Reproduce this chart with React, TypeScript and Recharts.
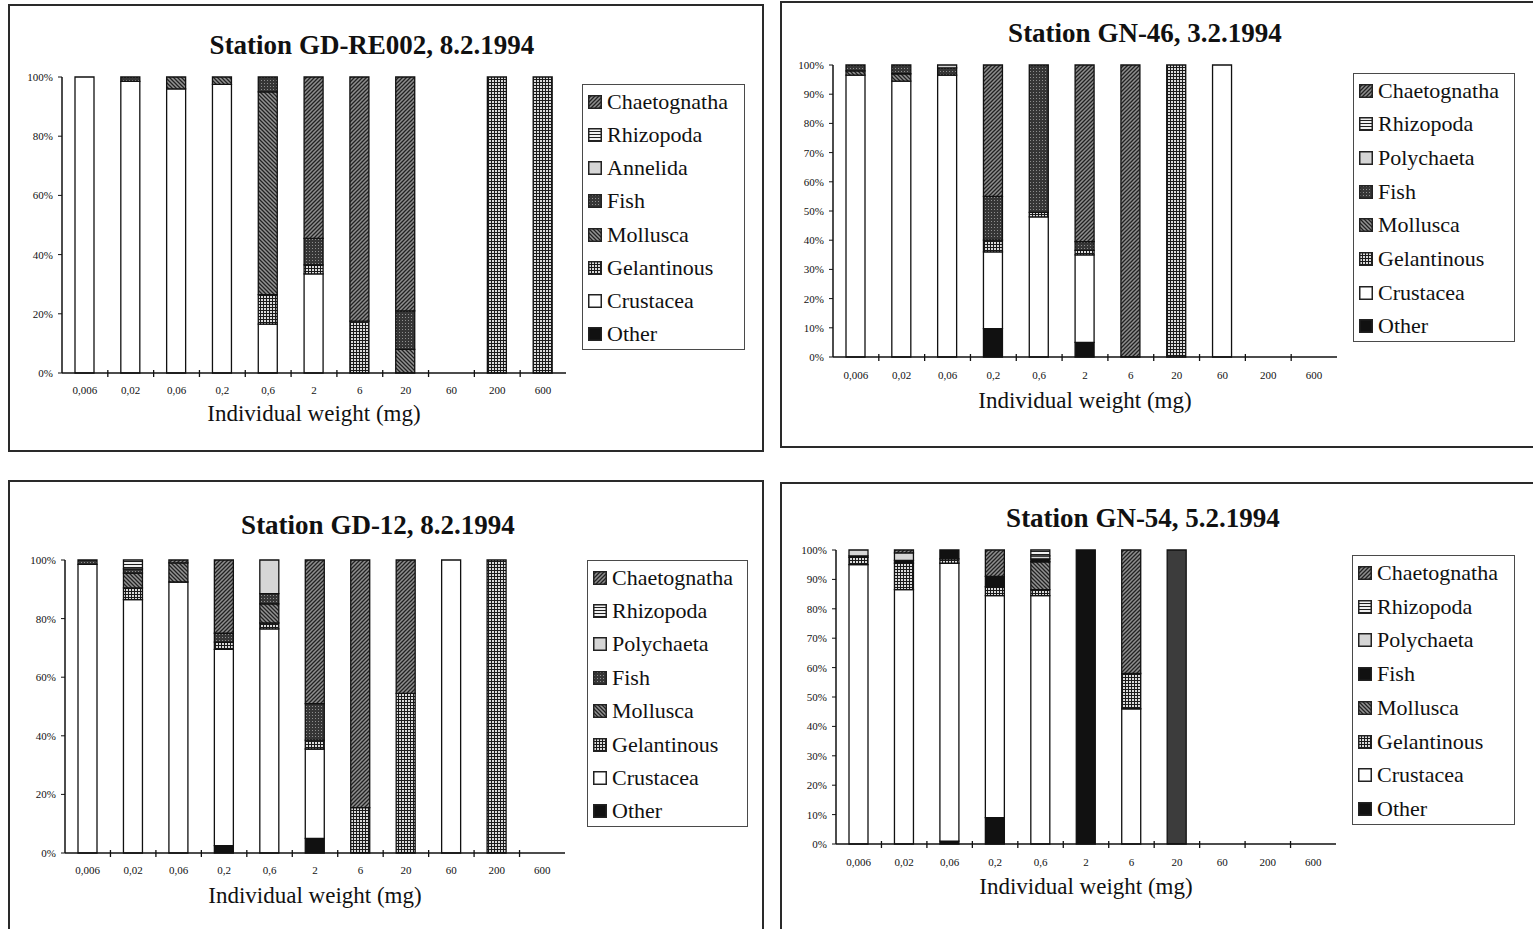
import React from 'react';
import { BarChart, Bar, XAxis, YAxis, Legend, Cell } from 'recharts';

// ---------- data ----------
const weightClasses = ['0,006', '0,02', '0,06', '0,2', '0,6', '2', '6', '20', '60', '200', '600'];
const ticksBy20 = [0, 20, 40, 60, 80, 100];
const ticksBy10 = [0, 10, 20, 30, 40, 50, 60, 70, 80, 90, 100];

// Station GD-RE002, 8.2.1994
const re002Other = [0, 0, 0, 0, 0, 0, 0, 0, 0, 0, 0];
const re002Crustacea = [100, 98.5, 96, 97.5, 16.5, 33.5, 0, 0, 0, 0, 0];
const re002Gelatinous = [0, 0, 0, 0, 10, 3, 17.5, 0, 0, 100, 100];
const re002Mollusca = [0, 0, 4, 2.5, 68.5, 0, 0, 8, 0, 0, 0];
const re002Fish = [0, 1.5, 0, 0, 5, 9, 0, 13, 0, 0, 0];
const re002Annelida = [0, 0, 0, 0, 0, 0, 0, 0, 0, 0, 0];
const re002Rhizopoda = [0, 0, 0, 0, 0, 0, 0, 0, 0, 0, 0];
const re002Chaetognatha = [0, 0, 0, 0, 0, 54.5, 82.5, 79, 0, 0, 0];

// Station GN-46, 3.2.1994
const gn46Other = [0, 0, 0, 9.7, 0, 5, 0, 0, 0, 0, 0];
const gn46Crustacea = [96.5, 94.5, 96.5, 26.3, 48, 30, 0, 0, 100, 0, 0];
const gn46Gelatinous = [0, 0, 0, 4, 1.5, 1.5, 0, 100, 0, 0, 0];
const gn46Mollusca = [1.5, 2.5, 0, 0, 0, 0, 0, 0, 0, 0, 0];
const gn46Fish = [2, 3, 2.5, 15, 50.5, 3, 0, 0, 0, 0, 0];
const gn46Polychaeta = [0, 0, 1, 0, 0, 0, 0, 0, 0, 0, 0];
const gn46Rhizopoda = [0, 0, 0, 0, 0, 0, 0, 0, 0, 0, 0];
const gn46Chaetognatha = [0, 0, 0, 45, 0, 60.5, 100, 0, 0, 0, 0];

// Station GD-12, 8.2.1994
const gd12Other = [0, 0, 0, 2.5, 0, 5, 0, 0, 0, 0, 0];
const gd12Crustacea = [98.5, 86.5, 92.5, 67, 76.5, 30.5, 0, 0, 100, 0, 0];
const gd12Gelatinous = [0, 4, 0, 2.5, 2, 3, 15.5, 54.5, 0, 100, 0];
const gd12Mollusca = [0, 5, 6.5, 0, 6.5, 0, 0, 0, 0, 0, 0];
const gd12Fish = [1.5, 1.5, 0, 3, 3.5, 12.5, 0, 0, 0, 0, 0];
const gd12Polychaeta = [0, 0, 0, 0, 11.5, 0, 0, 0, 0, 0, 0];
const gd12Rhizopoda = [0, 3, 0, 0, 0, 0, 0, 0, 0, 0, 0];
const gd12Chaetognatha = [0, 0, 1, 25, 0, 49, 84.5, 45.5, 0, 0, 0];

// Station GN-54, 5.2.1994
const gn54Other = [0, 0, 1, 9, 0, 0, 0, 0, 0, 0, 0];
const gn54Crustacea = [95, 86.5, 94.5, 75.5, 84.5, 0, 46, 0, 0, 0, 0];
const gn54Gelatinous = [2.5, 9, 1.5, 3, 2, 0, 12, 0, 0, 0, 0];
const gn54Mollusca = [0, 0, 0, 0, 9.5, 0, 0, 100, 0, 0, 0];
const gn54Fish = [0.5, 1, 3, 3.5, 1, 100, 0, 0, 0, 0, 0];
const gn54Polychaeta = [2, 2.5, 0, 0, 1, 0, 0, 0, 0, 0, 0];
const gn54Rhizopoda = [0, 0, 0, 0, 2, 0, 0, 0, 0, 0, 0];
const gn54Chaetognatha = [0, 1, 0, 9, 0, 0, 42, 0, 0, 0, 0];

// ---------- styling ----------
const FONT = '"Liberation Serif", "Times New Roman", serif';
const seriesKeys = ['other', 'crustacea', 'gelatinous', 'mollusca', 'fish', 'worms', 'rhizopoda', 'chaetognatha'];

const patternDefs = (id: string) => (
  <defs>
    <pattern id={`${id}-fwd`} patternUnits="userSpaceOnUse" width={4} height={4}>
      <rect width={4} height={4} fill="#8e8e8e" />
      <path d="M-1,1 L1,-1 M0,4 L4,0 M3,5 L5,3" stroke="#222" strokeWidth={1.3} />
    </pattern>
    <pattern id={`${id}-back`} patternUnits="userSpaceOnUse" width={4} height={4}>
      <rect width={4} height={4} fill="#939393" />
      <path d="M-1,3 L1,5 M0,0 L4,4 M3,-1 L5,1" stroke="#222" strokeWidth={1.3} />
    </pattern>
    <pattern id={`${id}-grid`} patternUnits="userSpaceOnUse" width={3} height={3}>
      <rect width={3} height={3} fill="#dadada" />
      <path d="M0,0.5 H3 M0.5,0 V3" stroke="#1a1a1a" strokeWidth={1} />
    </pattern>
    <pattern id={`${id}-dark`} patternUnits="userSpaceOnUse" width={3} height={3}>
      <rect width={3} height={3} fill="#363636" />
      <rect x={1} y={1} width={1} height={1} fill="#8e8e8e" />
    </pattern>
    <pattern id={`${id}-hline`} patternUnits="userSpaceOnUse" width={4} height={3}>
      <rect width={4} height={3} fill="#f0f0f0" />
      <path d="M0,0.5 H4" stroke="#1e1e1e" strokeWidth={1} />
    </pattern>
  </defs>
);

interface PanelCfg {
  id: string;
  title: string;
  wormName: string;
  box: { left: number; top: number; width: number; height: number };
  plot: { left: number; right: number; top: number; bottom: number };
  tickBaseline: number;
  axisTitleBaseline: number;
  legend: { left: number; top: number; width: number; height: number };
  titleCenter: { x: number; y: number };
  yTicks: number[];
  values: Record<string, number[]>;
  fishSolid: boolean;
  solidFull?: { key: string; fill: string };
}

const panels: PanelCfg[] = [
  {
    id: 'p1',
    title: 'Station GD-RE002, 8.2.1994',
    wormName: 'Annelida',
    box: { left: 8, top: 4, width: 756, height: 448 },
    plot: { left: 54, right: 558, top: 73, bottom: 369 },
    tickBaseline: 390,
    axisTitleBaseline: 417,
    legend: { left: 574, top: 80, width: 163, height: 266 },
    titleCenter: { x: 364, y: 41 },
    yTicks: ticksBy20,
    values: {
      other: re002Other, crustacea: re002Crustacea, gelatinous: re002Gelatinous, mollusca: re002Mollusca,
      fish: re002Fish, worms: re002Annelida, rhizopoda: re002Rhizopoda, chaetognatha: re002Chaetognatha,
    },
    fishSolid: false,
  },
  {
    id: 'p2',
    title: 'Station GN-46, 3.2.1994',
    wormName: 'Polychaeta',
    box: { left: 780, top: 1, width: 760, height: 447 },
    plot: { left: 53, right: 557, top: 64, bottom: 356 },
    tickBaseline: 378,
    axisTitleBaseline: 407,
    legend: { left: 573, top: 72, width: 162, height: 269 },
    titleCenter: { x: 365, y: 32 },
    yTicks: ticksBy10,
    values: {
      other: gn46Other, crustacea: gn46Crustacea, gelatinous: gn46Gelatinous, mollusca: gn46Mollusca,
      fish: gn46Fish, worms: gn46Polychaeta, rhizopoda: gn46Rhizopoda, chaetognatha: gn46Chaetognatha,
    },
    fishSolid: false,
  },
  {
    id: 'p3',
    title: 'Station GD-12, 8.2.1994',
    wormName: 'Polychaeta',
    box: { left: 8, top: 480, width: 756, height: 455 },
    plot: { left: 57, right: 557, top: 80, bottom: 373 },
    tickBaseline: 394,
    axisTitleBaseline: 423,
    legend: { left: 579, top: 80, width: 161, height: 267 },
    titleCenter: { x: 370, y: 45 },
    yTicks: ticksBy20,
    values: {
      other: gd12Other, crustacea: gd12Crustacea, gelatinous: gd12Gelatinous, mollusca: gd12Mollusca,
      fish: gd12Fish, worms: gd12Polychaeta, rhizopoda: gd12Rhizopoda, chaetognatha: gd12Chaetognatha,
    },
    fishSolid: false,
  },
  {
    id: 'p4',
    title: 'Station GN-54, 5.2.1994',
    wormName: 'Polychaeta',
    box: { left: 780, top: 482, width: 760, height: 455 },
    plot: { left: 56, right: 556, top: 68, bottom: 362 },
    tickBaseline: 384,
    axisTitleBaseline: 412,
    legend: { left: 572, top: 73, width: 163, height: 270 },
    titleCenter: { x: 363, y: 36 },
    yTicks: ticksBy10,
    values: {
      other: gn54Other, crustacea: gn54Crustacea, gelatinous: gn54Gelatinous, mollusca: gn54Mollusca,
      fish: gn54Fish, worms: gn54Polychaeta, rhizopoda: gn54Rhizopoda, chaetognatha: gn54Chaetognatha,
    },
    fishSolid: true,
    solidFull: { key: 'mollusca', fill: '#3c3c3c' },
  },
];

const fillsFor = (cfg: PanelCfg): Record<string, string> => ({
  other: '#111111',
  crustacea: '#ffffff',
  gelatinous: `url(#${cfg.id}-grid)`,
  mollusca: `url(#${cfg.id}-back)`,
  fish: cfg.fishSolid ? '#111111' : `url(#${cfg.id}-dark)`,
  worms: '#d6d6d6',
  rhizopoda: `url(#${cfg.id}-hline)`,
  chaetognatha: `url(#${cfg.id}-fwd)`,
});

const namesFor = (cfg: PanelCfg): Record<string, string> => ({
  other: 'Other',
  crustacea: 'Crustacea',
  gelatinous: 'Gelantinous',
  mollusca: 'Mollusca',
  fish: 'Fish',
  worms: cfg.wormName,
  rhizopoda: 'Rhizopoda',
  chaetognatha: 'Chaetognatha',
});

const WeightTick = (props: any) => {
  const { x, y, payload, index, bandHalf, labelDy } = props;
  const i = typeof index === 'number' ? index : payload?.index ?? 0;
  return (
    <g>
      <text x={x} y={y + labelDy} textAnchor="middle" fontSize={11} fontFamily={FONT} fill="#111">
        {payload.value}
      </text>
      {i < weightClasses.length - 1 && (
        <line x1={x + bandHalf} x2={x + bandHalf} y1={y - 3} y2={y + 4} stroke="#111" strokeWidth={1.3} />
      )}
    </g>
  );
};

const LegendBox = ({ width, height, fills, names }: any) => {
  const keys = [...seriesKeys].reverse();
  const rowH = height / keys.length;
  return (
    <div
      style={{
        width, height, boxSizing: 'border-box', border: '1.5px solid #4a4a4a', background: '#fff',
        fontFamily: FONT, fontSize: 22, color: '#111',
      }}
    >
      {keys.map((k) => (
        <div key={k} style={{ height: rowH, display: 'flex', alignItems: 'center', paddingLeft: 5 }}>
          <svg width={14} height={14} style={{ marginRight: 5, flex: 'none' }}>
            <rect x={0.75} y={0.75} width={12.5} height={12.5} fill={fills[k]} stroke="#222" strokeWidth={1.5} />
          </svg>
          <span style={{ lineHeight: 1, whiteSpace: 'nowrap' }}>{names[k]}</span>
        </div>
      ))}
    </div>
  );
};

function Panel({ cfg }: { cfg: PanelCfg }) {
  const rows = weightClasses.map((w, i) => {
    const r: Record<string, any> = { w };
    seriesKeys.forEach((k) => {
      r[k] = cfg.values[k][i];
    });
    return r;
  });
  const { box, plot } = cfg;
  const fills = fillsFor(cfg);
  const names = namesFor(cfg);
  const margin = { top: plot.top, right: box.width - plot.right, bottom: box.height - cfg.axisTitleBaseline, left: 0 };
  const bandHalf = (plot.right - plot.left) / weightClasses.length / 2;
  const axisStroke = { stroke: '#111', strokeWidth: 1.5 };

  return (
    <div style={{ position: 'absolute', left: box.left, top: box.top, width: box.width, height: box.height }}>
      <div style={{ position: 'absolute', left: 0, top: 0, right: 0, bottom: 0, border: '2px solid #2a2a2a', boxSizing: 'border-box' }} />
      <div
        style={{
          position: 'absolute', left: cfg.titleCenter.x - 300, width: 600, top: cfg.titleCenter.y - 15, height: 30,
          lineHeight: '30px', textAlign: 'center', fontWeight: 'bold', fontSize: 27, fontFamily: FONT, color: '#111',
        }}
      >
        {cfg.title}
      </div>
      <div style={{ position: 'absolute', left: 0, top: 0 }}>
        <BarChart width={box.width} height={box.height} data={rows} margin={margin} barSize={19}>
          {patternDefs(cfg.id)}
          <XAxis
            xAxisId="x"
            dataKey="w"
            height={cfg.axisTitleBaseline - plot.bottom}
            interval={0}
            tickLine={false}
            tickSize={0}
            tickMargin={0}
            axisLine={axisStroke}
            tick={<WeightTick bandHalf={bandHalf} labelDy={cfg.tickBaseline - plot.bottom} />}
            label={{ value: 'Individual weight (mg)', position: 'insideBottom', offset: 0, fontSize: 23, fontFamily: FONT, fill: '#111' }}
          />
          <XAxis xAxisId="top" orientation="top" dataKey="w" height={0} tick={false} tickLine={false} axisLine={axisStroke} />
          <YAxis
            yAxisId="y"
            width={plot.left}
            domain={[0, 100]}
            ticks={cfg.yTicks}
            interval={0}
            tickSize={4}
            tickMargin={5}
            tickLine={{ stroke: '#111' }}
            axisLine={axisStroke}
            tick={{ fontSize: 11, fontFamily: FONT, fill: '#111' }}
            tickFormatter={(v: number) => `${v}%`}
          />
          <YAxis yAxisId="r" orientation="right" width={0} domain={[0, 100]} tick={false} tickLine={false} axisLine={axisStroke} />
          <Legend
            layout="vertical"
            align="center"
            verticalAlign="middle"
            wrapperStyle={{ left: cfg.legend.left, top: cfg.legend.top, width: cfg.legend.width, height: cfg.legend.height }}
            content={() => <LegendBox width={cfg.legend.width} height={cfg.legend.height} fills={fills} names={names} />}
          />
          {seriesKeys.map((k) => (
            <Bar
              key={k}
              xAxisId="x"
              yAxisId="y"
              dataKey={k}
              stackId="s"
              name={names[k]}
              fill={fills[k]}
              stroke="#111"
              strokeWidth={1.3}
              isAnimationActive={false}
            >
              {cfg.solidFull && cfg.solidFull.key === k
                ? rows.map((r, i) => <Cell key={i} fill={r[k] >= 100 ? cfg.solidFull!.fill : fills[k]} />)
                : null}
            </Bar>
          ))}
        </BarChart>
      </div>
    </div>
  );
}

export default function App() {
  return (
    <div style={{ position: 'absolute', left: 0, top: 0, width: 1533, height: 929, overflow: 'hidden', background: '#fff' }}>
      {panels.map((p) => (
        <Panel key={p.id} cfg={p} />
      ))}
    </div>
  );
}
